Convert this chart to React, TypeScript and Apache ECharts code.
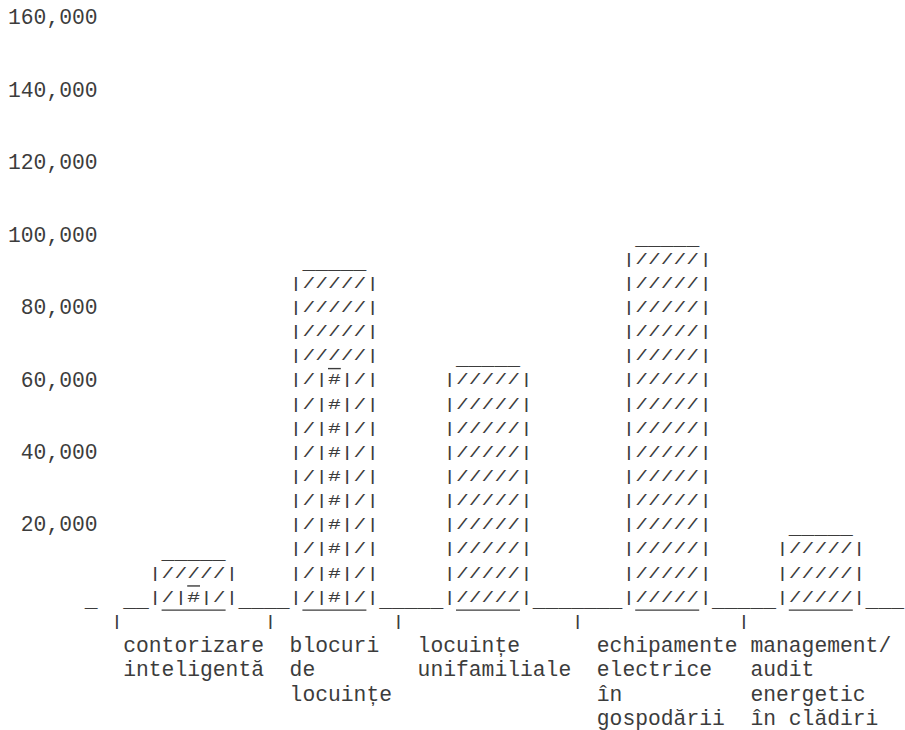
import React, { useEffect, useRef } from "react";
import * as echarts from "echarts";

// ---- data ----
const categories = [
  "contorizare\ninteligentă",
  "blocuri\nde\nlocuințe",
  "locuințe\nunifamiliale",
  "echipamente\nelectrice\nîn\ngospodării",
  "management/\naudit\nenergetic\nîn clădiri",
];
const totalValues = [12000, 92000, 66000, 99000, 19000];
const innerValues = [6000, 67000, 0, 0, 0];
const yMax = 160000;
const yStep = 20000;

// ---- text-grid layout (character columns) ----
const ROWS_PER_STEP = 3;
const BAR_COL = [11, 22, 34, 48, 60];
const TICK_COL = [8, 20, 30, 44, 57];
const FIRST_COL = 7;
const LAST_COL = 70;
const CW = 12.8;
const FONT_SIZE = 21.3333;
const FAMILY = "'Courier New', 'Liberation Mono', monospace";
const FONT = `${FONT_SIZE}px ${FAMILY}`;
const INK = "#3c3c3c";
const GLYPH_SQUEEZE = 0.66;
const UNDERSCORE_DY = 3;
const UNDERLINE_DY = 12.2;

const fmt = (v: number) =>
  v === 0 ? "{u|_}" : String(v).replace(/\B(?=(\d{3})+(?!\d))/g, ",");

export default function App() {
  const ref = useRef<HTMLDivElement>(null);
  useEffect(() => {
    if (!ref.current) return;
    const chart = echarts.init(ref.current, null, {
      renderer: "svg",
      width: 905,
      height: 730,
    });
    const rowValue = yStep / ROWS_PER_STEP;
    const txt = (x: number, y: number, s: string, sy = 1) => ({
      type: "text",
      x,
      y,
      scaleY: sy,
      silent: true,
      style: {
        text: s,
        font: FONT,
        fill: INK,
        align: "left",
        verticalAlign: "middle",
        textAlign: "left",
        textVerticalAlign: "middle",
      },
    });
    const uline = (x1: number, x2: number, y: number) => ({
      type: "line",
      silent: true,
      shape: { x1, y1: y, x2, y2: y },
      style: { stroke: INK, lineWidth: 1.4 },
    });
    const option: any = {
      animation: false,
      grid: {
        left: 8 + FIRST_COL * CW,
        right: 905 - (8 + LAST_COL * CW),
        top: 18.3,
        bottom: 730 - (18.3 + 24 * 24.15),
      },
      xAxis: {
        type: "value",
        min: FIRST_COL,
        max: LAST_COL,
        show: false,
      },
      yAxis: {
        type: "value",
        min: 0,
        max: yMax,
        interval: yStep,
        axisLine: { show: false },
        axisTick: { show: false },
        splitLine: { show: false },
        axisLabel: {
          margin: 0,
          fontFamily: FAMILY,
          fontSize: FONT_SIZE,
          color: INK,
          formatter: (v: number) => fmt(v),
          rich: {
            u: {
              fontFamily: FAMILY,
              fontSize: FONT_SIZE,
              color: INK,
              padding: [UNDERSCORE_DY * 2, 0, 0, 0],
            },
          },
        },
      },
      series: [
        {
          type: "custom",
          clip: false,
          data: categories.map((c, i) => [i, totalValues[i], innerValues[i]]),
          renderItem: (params: any, api: any) => {
            const i = api.value(0) as number;
            const total = api.value(1) as number;
            const inner = api.value(2) as number;
            const y0 = api.coord([FIRST_COL, 0])[1];
            const rowH = api.size([0, rowValue])[1];
            const xc = (c: number) => api.coord([c, 0])[0];
            const yr = (k: number) => y0 + k * rowH;
            const h = Math.round((y0 - api.coord([FIRST_COL, total])[1]) / rowH);
            const k = Math.round((y0 - api.coord([FIRST_COL, inner])[1]) / rowH);
            const b = BAR_COL[i];
            const children: any[] = [];
            // baseline segment left of bar
            const segStart = i === 0 ? TICK_COL[0] + 1 : BAR_COL[i - 1] + 7;
            if (b - segStart > 0)
              children.push(
                txt(xc(segStart), yr(0) + UNDERSCORE_DY, "_".repeat(b - segStart))
              );
            if (i === categories.length - 1 && LAST_COL - (b + 7) > 0)
              children.push(
                txt(xc(b + 7), yr(0) + UNDERSCORE_DY, "_".repeat(LAST_COL - (b + 7)))
              );
            // bar
            if (h > 0) {
              children.push(txt(xc(b + 1), yr(-h) + UNDERSCORE_DY, "_____"));
              for (let r = h - 1; r >= 0; r--) {
                children.push(
                  txt(xc(b), yr(-r), r < k ? "|/|#|/|" : "|/////|", GLYPH_SQUEEZE)
                );
                if (k > 0 && r === k)
                  children.push(uline(xc(b + 3), xc(b + 4), yr(-r) + UNDERLINE_DY));
              }
              children.push(uline(xc(b + 1), xc(b + 6), yr(0) + UNDERLINE_DY));
            }
            // tick
            children.push(txt(xc(TICK_COL[i]), yr(1), "|", GLYPH_SQUEEZE));
            // label
            const lines = categories[i].split("\n");
            const maxLen = Math.max(...lines.map((l) => l.length));
            const lc = b + 3 - Math.floor((maxLen - 1) / 2);
            lines.forEach((l, j) => children.push(txt(xc(lc), yr(2 + j), l)));
            return { type: "group", children };
          },
        },
      ],
    };
    chart.setOption(option);
    return () => chart.dispose();
  }, []);
  return (
    <div
      ref={ref}
      style={{ position: "fixed", left: 0, top: 0, width: 905, height: 730, background: "#fff" }}
    />
  );
}
